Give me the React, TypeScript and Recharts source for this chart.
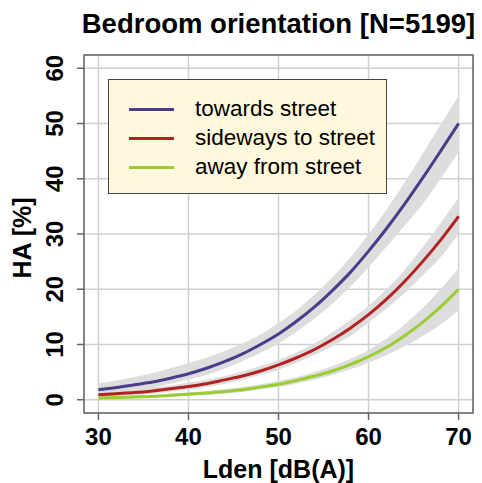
import React from "react";
import {
  ComposedChart,
  Area,
  Line,
  XAxis,
  YAxis,
  CartesianGrid,
  ReferenceArea,
  Legend,
} from "recharts";

const FONT = "'Liberation Sans', Arial, sans-serif";

// Lden [dB(A)]
const lden = [30, 32, 34, 36, 38, 40, 42, 44, 46, 48, 50, 52, 54, 56, 58, 60, 62, 64, 66, 68, 70];

// HA [%]
const towards = [1.8, 2.2, 2.7, 3.2, 3.9, 4.7, 5.7, 6.9, 8.3, 10.0, 11.9, 14.2, 16.8, 19.8, 23.1, 26.9, 31.0, 35.4, 40.1, 45.0, 50.0];
const towardsLo = [1.1, 1.4, 1.8, 2.2, 2.9, 3.6, 4.5, 5.6, 7.0, 8.5, 10.2, 12.3, 14.7, 17.4, 20.5, 24.0, 27.7, 31.5, 35.4, 40.0, 44.8];
const towardsHi = [3.0, 3.5, 4.1, 4.8, 5.7, 6.6, 7.6, 8.8, 10.2, 11.8, 13.9, 16.2, 19.0, 22.2, 25.8, 30.0, 34.4, 39.3, 44.5, 49.8, 55.0];

const sideways = [0.9, 1.1, 1.3, 1.6, 2.0, 2.4, 2.9, 3.6, 4.3, 5.2, 6.3, 7.6, 9.1, 10.9, 13.0, 15.4, 18.2, 21.4, 25.0, 28.9, 33.2];
const sidewaysLo = [0.5, 0.7, 0.9, 1.1, 1.5, 1.8, 2.3, 2.9, 3.6, 4.5, 5.4, 6.7, 8.1, 9.7, 11.6, 14.0, 16.5, 19.3, 22.5, 25.8, 30.0];
const sidewaysHi = [1.5, 1.7, 2.0, 2.3, 2.6, 3.1, 3.6, 4.3, 5.1, 6.1, 7.2, 8.6, 10.2, 12.2, 14.5, 17.0, 20.0, 23.5, 27.6, 32.0, 36.5];

const away = [0.3, 0.4, 0.5, 0.6, 0.8, 1.0, 1.2, 1.5, 1.8, 2.3, 2.8, 3.5, 4.3, 5.2, 6.4, 7.8, 9.5, 11.6, 14.0, 16.8, 20.0];
const awayLo = [0.2, 0.2, 0.3, 0.4, 0.5, 0.7, 0.9, 1.1, 1.4, 1.9, 2.3, 2.9, 3.6, 4.5, 5.5, 6.7, 8.1, 9.7, 11.5, 13.6, 16.2];
const awayHi = [0.6, 0.7, 0.8, 0.9, 1.1, 1.3, 1.6, 1.9, 2.3, 2.8, 3.4, 4.1, 5.0, 6.1, 7.4, 9.0, 11.1, 13.6, 16.6, 20.0, 23.8];

const xTicks = [30, 40, 50, 60, 70];
const yTicks = [0, 10, 20, 30, 40, 50, 60];

const series = [
  { key: "towards", name: "towards street", color: "#483D8B" },
  { key: "sideways", name: "sideways to street", color: "#B22222" },
  { key: "away", name: "away from street", color: "#9ACD32" },
];

const data = lden.map((x, i) => ({
  lden: x,
  towards: towards[i],
  towardsBand: [towardsLo[i], towardsHi[i]],
  sideways: sideways[i],
  sidewaysBand: [sidewaysLo[i], sidewaysHi[i]],
  away: away[i],
  awayBand: [awayLo[i], awayHi[i]],
}));

const XTick = (props: any) => {
  const { x, y, payload } = props;
  return (
    <text x={x} y={y + 23} textAnchor="middle" fontFamily={FONT} fontWeight="bold" fontSize={24} fill="#000">
      {payload.value}
    </text>
  );
};

const YTick = (props: any) => {
  const { x, y, payload } = props;
  const bx = x - 12;
  return (
    <text
      x={bx}
      y={y}
      transform={`rotate(-90, ${bx}, ${y})`}
      textAnchor="middle"
      fontFamily={FONT}
      fontWeight="bold"
      fontSize={24}
      fill="#000"
    >
      {payload.value}
    </text>
  );
};

const XLabel = (props: any) => {
  const { x, y, width } = props.viewBox;
  return (
    <text x={x + width / 2} y={y + 65} textAnchor="middle" fontFamily={FONT} fontWeight="bold" fontSize={25} fill="#000">
      Lden [dB(A)]
    </text>
  );
};

const YLabel = (props: any) => {
  const { y, height } = props.viewBox;
  const cx = 31;
  const cy = y + height / 2 + 4;
  return (
    <text
      x={cx}
      y={cy}
      transform={`rotate(-90, ${cx}, ${cy})`}
      textAnchor="middle"
      fontFamily={FONT}
      fontWeight="bold"
      fontSize={25}
      fill="#000"
    >
      HA [%]
    </text>
  );
};

const LegendBox = () => (
  <div
    style={{
      width: 279,
      height: 115,
      boxSizing: "border-box",
      background: "#FFF8DC",
      border: "1.5px solid #444",
      position: "relative",
      fontFamily: FONT,
      fontSize: 22.5,
      color: "#000",
    }}
  >
    {series.map((s, i) => (
      <div key={s.key}>
        <div
          style={{
            position: "absolute",
            left: 20,
            top: 28 + i * 29,
            width: 45,
            height: 3,
            background: s.color,
          }}
        />
        <div
          style={{
            position: "absolute",
            left: 86,
            top: 29 + i * 29 - 14,
            lineHeight: "28px",
            whiteSpace: "nowrap",
          }}
        >
          {s.name}
        </div>
      </div>
    ))}
  </div>
);

export default function App() {
  return (
    <div style={{ position: "absolute", left: 0, top: 0, width: 482, height: 483, background: "#fff" }}>
      <svg width={482} height={60} style={{ position: "absolute", left: 0, top: 0 }}>
        <text x={278.5} y={33} textAnchor="middle" fontFamily={FONT} fontWeight="bold" fontSize={27.5} fill="#000">
          Bedroom orientation [N=5199]
        </text>
      </svg>
      <div style={{ position: "absolute", left: 0, top: 0 }}>
        <ComposedChart width={482} height={483} data={data} margin={{ top: 55, right: 9, bottom: 0, left: 0 }}>
          <CartesianGrid stroke="#d0d0d0" strokeWidth={1.5} />
          <XAxis
            type="number"
            dataKey="lden"
            domain={[28.4, 71.6]}
            ticks={xTicks}
            allowDataOverflow
            axisLine={false}
            tickLine={{ stroke: "#666", strokeWidth: 1.5 }}
            tickSize={7}
            height={70}
            tick={<XTick />}
            label={<XLabel />}
          />
          <YAxis
            type="number"
            domain={[-2.4, 62.4]}
            ticks={yTicks}
            allowDataOverflow
            axisLine={false}
            tickLine={{ stroke: "#666", strokeWidth: 1.5 }}
            tickSize={7}
            width={84}
            tick={<YTick />}
            label={<YLabel />}
          />
          {series.map((s) => (
            <Area
              key={s.key + "Band"}
              type="monotone"
              dataKey={s.key + "Band"}
              stroke="none"
              fill="#dddddd"
              fillOpacity={1}
              isAnimationActive={false}
              legendType="none"
            />
          ))}
          {series.map((s) => (
            <Line
              key={s.key}
              type="monotone"
              dataKey={s.key}
              name={s.name}
              stroke={s.color}
              strokeWidth={3}
              dot={false}
              activeDot={false}
              isAnimationActive={false}
            />
          ))}
          <ReferenceArea x1={28.4} x2={71.6} y1={-2.4} y2={62.4} fill="none" stroke="#666" strokeWidth={1.5} />
          <Legend
            layout="vertical"
            align="center"
            verticalAlign="middle"
            content={<LegendBox />}
            wrapperStyle={{ left: 108, top: 79, width: 279, height: 115 }}
          />
        </ComposedChart>
      </div>
    </div>
  );
}
